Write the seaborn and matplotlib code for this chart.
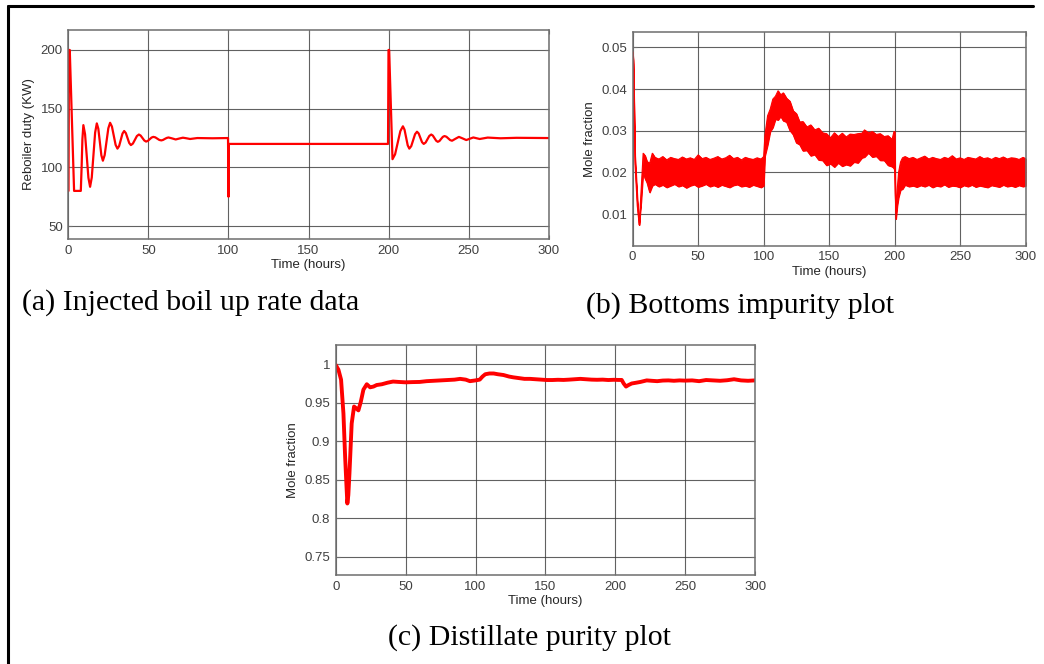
import matplotlib
matplotlib.use("Agg")
import matplotlib.pyplot as plt
from matplotlib.lines import Line2D
import seaborn as sns

# (a) reboiler duty
a_time = [0, 0.3, 0.8, 3.5, 7.7, 8.2, 8.7, 9.3, 10.35, 11.4, 12.45, 13.5, 14.55,
          15.6, 16.65, 17.7, 18.65, 19.6, 20.55, 21.5, 22.6, 23.75, 24.9, 26,
          27.15, 28.3, 29.45, 30.6, 31.65, 32.7, 33.75, 34.8, 35.85, 36.9, 37.95,
          39, 40.25, 41.5, 42.75, 44, 45.1, 46.25, 47.4, 48.5, 49.6, 50.75, 51.9,
          53, 54.25, 55.5, 56.75, 58, 59.1, 60.25, 61.4, 62.5, 64.75, 67, 69.25,
          71.5, 73.75, 76, 80.5, 90, 99.7, 100, 100.2, 100.5,
          199.7, 200, 200.4, 202.5, 204.1, 205.75, 207.4, 209, 210, 211, 212, 213,
          214.2, 215.4, 216.6, 217.8, 218.85, 219.9, 220.95, 222, 223.2, 224.35,
          225.5, 226.7, 227.7, 228.75, 229.8, 230.8, 231.85, 232.9, 233.95, 235,
          236.2, 237.35, 238.5, 239.7, 241.85, 244, 246.3, 248.6, 253, 257, 262,
          270, 280, 300]
a_duty = [80, 200, 200, 80, 80, 100, 124, 136, 128.3, 109.8, 91.2, 83.5, 91.4,
          110.5, 129.6, 137.5, 132.9, 121.6, 110.3, 105.7, 110.4, 121.9, 133.3, 138,
          134.8, 127, 119.2, 116, 118.2, 123.5, 128.8, 131, 129.2, 125, 120.8,
          119, 120.3, 123.5, 126.7, 128, 127.1, 125, 122.9, 122, 122.6, 124, 125.4,
          126, 125.6, 124.5, 123.4, 123, 123.4, 124.3, 125.1, 125.5, 124.7, 123.8,
          124.6, 125.3, 124.8, 124.2, 125, 124.8, 125, 75, 120, 120,
          120, 200, 200, 107, 111.1, 121, 130.9, 135, 132.2, 125.5, 118.8, 116,
          118.1, 123.2, 128.3, 130.4, 128.9, 125.2, 121.5, 120, 121.2, 124,
          126.8, 128, 127.1, 124.9, 122.7, 121.8, 122.5, 124.3, 126, 126.7,
          126.1, 124.7, 123.3, 122.7, 124.4, 126, 124.7, 123.3, 125.5, 124.2, 125.4,
          124.8, 125.2, 125]

# (b) bottoms impurity: upper / lower edge of the noisy band
b_time = [0, 0.5, 1.8, 3.5, 5, 6.5, 8, 9.5, 11, 13, 15, 17, 20, 23, 26, 29, 32, 35,
          38, 41, 44, 47, 50, 53, 56, 59, 62, 65, 68, 71, 74, 77, 80, 83, 86, 89,
          92, 95, 98, 100,
          101, 103, 105, 107, 109, 111, 113, 115, 117.5, 120, 122.5, 125, 127.5,
          130, 133, 136, 139, 142, 145, 148, 151, 154, 157, 160, 163, 166, 169,
          172, 175, 177, 180, 183, 186, 189, 192, 195, 198, 199.5,
          200, 200.5, 201, 202, 203, 204.5, 206, 208, 211, 214, 217, 220, 223,
          226, 229, 232, 235, 238, 241, 244, 247, 250, 253, 256, 259, 262, 265,
          268, 271, 274, 277, 280, 283, 286, 289, 292, 295, 298, 300]
b_upper = [0.049, 0.047, 0.024, 0.014, 0.0074, 0.016, 0.0246, 0.024, 0.0226,
           0.0222, 0.0246, 0.0236, 0.0232, 0.0238, 0.0230, 0.0236, 0.0233, 0.0231,
           0.0237, 0.0232, 0.0235, 0.0231, 0.0242, 0.0233, 0.0236, 0.0231, 0.0234,
           0.0238, 0.0232, 0.0235, 0.0241, 0.0233, 0.0236, 0.0230, 0.0236, 0.0233,
           0.0231, 0.0235, 0.0232, 0.0238,
           0.0290, 0.0336, 0.0352, 0.0376, 0.0383, 0.0396, 0.0386, 0.0391, 0.0378,
           0.0371, 0.0348, 0.0341, 0.0321, 0.0322, 0.0309, 0.0314, 0.0302, 0.0306,
           0.0295, 0.0293, 0.0283, 0.0295, 0.0286, 0.0294, 0.0285, 0.0292, 0.0291,
           0.0293, 0.0294, 0.0302, 0.0295, 0.0298, 0.0291, 0.0293, 0.0286, 0.0288,
           0.0279, 0.0298,
           0.0298, 0.0150, 0.0105, 0.0160, 0.0200, 0.0225, 0.0235, 0.0238, 0.0233,
           0.0236, 0.0231, 0.0235, 0.0239, 0.0232, 0.0236, 0.0233, 0.0231, 0.0236,
           0.0233, 0.0240, 0.0232, 0.0235, 0.0231, 0.0236, 0.0234, 0.0232, 0.0238,
           0.0233, 0.0235, 0.0231, 0.0236, 0.0233, 0.0237, 0.0232, 0.0235, 0.0234,
           0.0231, 0.0236, 0.0233]
b_lower = [0.049, 0.046, 0.022, 0.012, 0.0074, 0.013, 0.0200, 0.0185, 0.0175,
           0.0152, 0.0168, 0.0172, 0.0166, 0.0170, 0.0164, 0.0168, 0.0172, 0.0166,
           0.0169, 0.0163, 0.0168, 0.0171, 0.0165, 0.0168, 0.0172, 0.0166, 0.0169,
           0.0165, 0.0170, 0.0167, 0.0164, 0.0169, 0.0171, 0.0166, 0.0168, 0.0165,
           0.0170, 0.0167, 0.0164, 0.0168,
           0.0240, 0.0266, 0.0298, 0.0308, 0.0328, 0.0326, 0.0335, 0.0324, 0.0321,
           0.0301, 0.0291, 0.0271, 0.0267, 0.0252, 0.0253, 0.0240, 0.0243, 0.0230,
           0.0229, 0.0217, 0.0221, 0.0213, 0.0223, 0.0215, 0.0219, 0.0216, 0.0225,
           0.0223, 0.0235, 0.0237, 0.0247, 0.0237, 0.0239, 0.0229, 0.0229, 0.0217,
           0.0214, 0.0210,
           0.0205, 0.0150, 0.0088, 0.0120, 0.0140, 0.0158, 0.0160, 0.0170, 0.0166,
           0.0168, 0.0165, 0.0169, 0.0166, 0.0170, 0.0164, 0.0168, 0.0166, 0.0171,
           0.0165, 0.0168, 0.0167, 0.0164, 0.0169, 0.0166, 0.0170, 0.0165, 0.0168,
           0.0166, 0.0164, 0.0169, 0.0167, 0.0165, 0.0170, 0.0166, 0.0168, 0.0165,
           0.0169, 0.0166, 0.0168]

# (c) distillate purity
c_time = [0, 1.9, 3.8, 5.5, 6.7, 7.6, 8.3, 9.0, 9.8, 11.4, 13.1, 14.5, 16.2, 17.9,
          19.8, 22.2, 24.6, 27, 29.3, 33, 37, 41, 45, 50, 55, 60, 65, 70, 75, 80,
          85, 89, 93, 96, 100, 103, 105, 107, 110, 113, 116, 120, 124, 127, 131,
          135, 139, 143, 147, 151, 155, 159, 163, 167, 171, 175, 179, 183, 187,
          191, 195, 199, 202, 204.6, 206, 207.7, 209.5, 211.8, 215, 218, 222.5,
          226, 230, 234, 238, 242, 246, 250, 255, 260, 265, 270, 275, 280, 285,
          290, 295, 300]
c_purity = [0.999, 0.993, 0.980, 0.936, 0.880, 0.845, 0.819, 0.830, 0.858, 0.923,
            0.945, 0.943, 0.940, 0.951, 0.967, 0.974, 0.970, 0.971, 0.973, 0.974,
            0.976, 0.9775, 0.977, 0.9765, 0.9768, 0.977, 0.978, 0.9785, 0.979,
            0.9795, 0.980, 0.981, 0.980, 0.978, 0.979, 0.980, 0.984, 0.987, 0.988,
            0.988, 0.987, 0.986, 0.984, 0.983, 0.982, 0.981, 0.981, 0.9805, 0.980,
            0.9795, 0.9795, 0.9798, 0.9796, 0.980, 0.9805, 0.981, 0.9805, 0.980,
            0.9798, 0.980, 0.9795, 0.9798, 0.9796, 0.9796, 0.975, 0.971, 0.973,
            0.975, 0.976, 0.977, 0.979, 0.9785, 0.978, 0.9788, 0.979, 0.9785,
            0.979, 0.9787, 0.979, 0.978, 0.9795, 0.979, 0.9785, 0.9792, 0.9805,
            0.979, 0.9785, 0.979]

x_ticks = [0, 50, 100, 150, 200, 250, 300]

sns.set_theme(style="white")
plt.rcParams["font.family"] = ["Liberation Sans", "DejaVu Sans"]

fig = plt.figure(figsize=(10.44, 6.64), dpi=100)
fig.patch.set_facecolor("white")


def style_axes(ax, ylim, yticks, ylabel):
    ax.set_xlim(0, 300)
    ax.set_ylim(*ylim)
    ax.set_xticks(x_ticks)
    ax.set_yticks(yticks)
    ax.set_yticklabels([f"{v:g}" for v in yticks])
    ax.grid(True, color="#3a3a3a", lw=0.8, alpha=0.8)
    for s in ax.spines.values():
        s.set_color("#6e6e6e")
        s.set_linewidth(1.1)
    ax.tick_params(direction="in", length=3, width=0.8, colors="#6e6e6e",
                   labelcolor="#404040", labelsize=9.5, pad=4,
                   top=True, right=True, bottom=True, left=True)
    ax.set_xlabel("Time (hours)", fontsize=9.5, color="#262626", labelpad=2)
    ax.set_ylabel(ylabel, fontsize=9.5, color="#262626", labelpad=4)


# (a)
ax_a = fig.add_axes([0.0656, 0.640, 0.4598, 0.3148])
sns.lineplot(x=a_time, y=a_duty, ax=ax_a, color="#ff0000", lw=1.6,
             estimator=None, sort=False)
style_axes(ax_a, (39, 217), [50, 100, 150, 200], "Reboiler duty (KW)")

# (b)
ax_b = fig.add_axes([0.606, 0.630, 0.3764, 0.3223])
ax_b.fill_between(b_time, b_lower, b_upper, color="#ff0000", lw=0.8,
                  edgecolor="#ff0000")
sns.lineplot(x=b_time, y=b_upper, ax=ax_b, color="#ff0000", lw=0.8,
             estimator=None, sort=False)
sns.lineplot(x=b_time, y=b_lower, ax=ax_b, color="#ff0000", lw=0.8,
             estimator=None, sort=False)
style_axes(ax_b, (0.0024, 0.0538), [0.01, 0.02, 0.03, 0.04, 0.05], "Mole fraction")

# (c)
ax_c = fig.add_axes([0.3216, 0.134, 0.4016, 0.3464])
sns.lineplot(x=c_time, y=c_purity, ax=ax_c, color="#ff0000", lw=2.8,
             estimator=None, sort=False)
style_axes(ax_c, (0.726, 1.025), [0.75, 0.8, 0.85, 0.9, 0.95, 1], "Mole fraction")

# captions
cap = dict(family=["Liberation Serif", "DejaVu Serif"], fontsize=21.5, color="black")
fig.text(22 / 1044, 0.533, "(a) Injected boil up rate data", ha="left", va="baseline", **cap)
fig.text(586 / 1044, 0.5286, "(b) Bottoms impurity plot", ha="left", va="baseline", **cap)
fig.text(529 / 1044, 0.0286, "(c) Distillate purity plot", ha="center", va="baseline", **cap)

# outer frame (left and top edges only)
fig.add_artist(Line2D([8 / 1044, 8 / 1044], [0, 1 - 6 / 664], color="black", lw=2.2,
                      transform=fig.transFigure))
fig.add_artist(Line2D([8 / 1044, 1033 / 1044], [1 - 6 / 664, 1 - 6 / 664], color="black",
                      lw=2.2, transform=fig.transFigure))

fig.savefig("out.png", dpi=100)
